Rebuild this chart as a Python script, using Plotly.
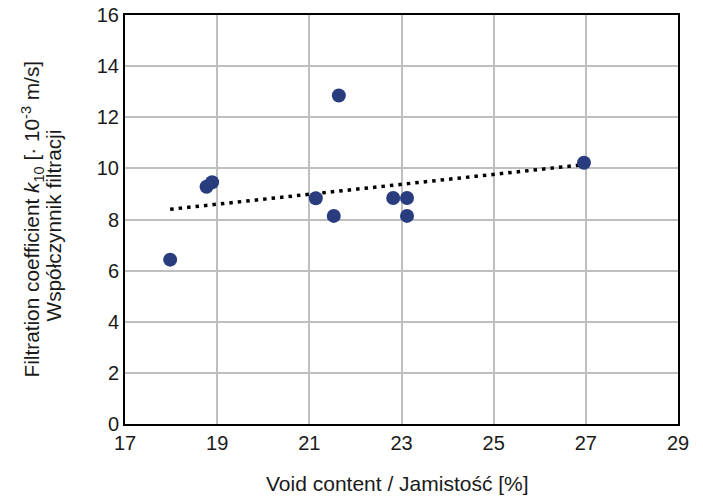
import numpy as np
import plotly.graph_objects as go

void_content = [17.98, 18.77, 18.89, 21.14, 21.53, 21.64, 22.82, 23.12, 23.12, 26.96]
filtration_k10 = [6.43, 9.28, 9.46, 8.83, 8.14, 12.85, 8.84, 8.84, 8.14, 10.22]
x_ticks = [17, 19, 21, 23, 25, 27, 29]
y_ticks = [0, 2, 4, 6, 8, 10, 12, 14, 16]

slope, intercept = np.polyfit(void_content, filtration_k10, 1)
trend_x = [min(void_content), max(void_content)]
trend_y = [slope * v + intercept for v in trend_x]

TXT = "#1a1a1a"

fig = go.Figure()
fig.add_trace(go.Scatter(
    x=trend_x, y=trend_y, mode="lines",
    line=dict(color="black", width=3.5, dash="3.5px,5px"),
    showlegend=False, hoverinfo="skip"))
fig.add_trace(go.Scatter(
    x=void_content, y=filtration_k10, mode="markers",
    marker=dict(color="#283C7E", size=14, line=dict(width=0)),
    showlegend=False))

axis_common = dict(
    showgrid=True, gridcolor="#BFBFBF", gridwidth=1.5,
    showline=True, linecolor="black", linewidth=2, mirror=True,
    zeroline=False, ticks="", tickfont=dict(size=20, color=TXT),
    automargin=False,
)
fig.update_xaxes(range=[17, 29], tickvals=x_ticks, ticktext=[str(t) for t in x_ticks],
                 **axis_common)
fig.update_yaxes(range=[0, 16], tickvals=y_ticks, ticktext=[str(t) for t in y_ticks],
                 **axis_common)

# axis titles as annotations (tight two-line spacing like the reference)
fig.add_annotation(text="Void content / Jamistość [%]", xref="paper", yref="paper",
                   x=0.5, y=0, xanchor="center", yanchor="middle", yshift=-59, xshift=-4,
                   showarrow=False, font=dict(size=21, color=TXT))
fig.add_annotation(text="Filtration coefficient <i>k</i><sub>10</sub> [· 10<sup>-3</sup> m/s]",
                   xref="paper", yref="paper", x=0, y=0.5, xanchor="center", yanchor="middle",
                   xshift=-93, yshift=0, textangle=-90, showarrow=False, font=dict(size=20.8, color=TXT))
fig.add_annotation(text="Współczynnik filtracji",
                   xref="paper", yref="paper", x=0, y=0.5, xanchor="center", yanchor="middle",
                   xshift=-72, yshift=-6, textangle=-90, showarrow=False, font=dict(size=20.8, color=TXT))

fig.update_layout(
    width=703, height=497,
    margin=dict(l=125, r=25, t=15, b=73, autoexpand=False),
    plot_bgcolor="white", paper_bgcolor="white",
    font=dict(family="Liberation Sans, Arial, sans-serif", color=TXT),
)
fig.write_html("out.html", config={"displayModeBar": False},
               post_script="document.body.style.margin='0';document.body.style.overflow='hidden';")
